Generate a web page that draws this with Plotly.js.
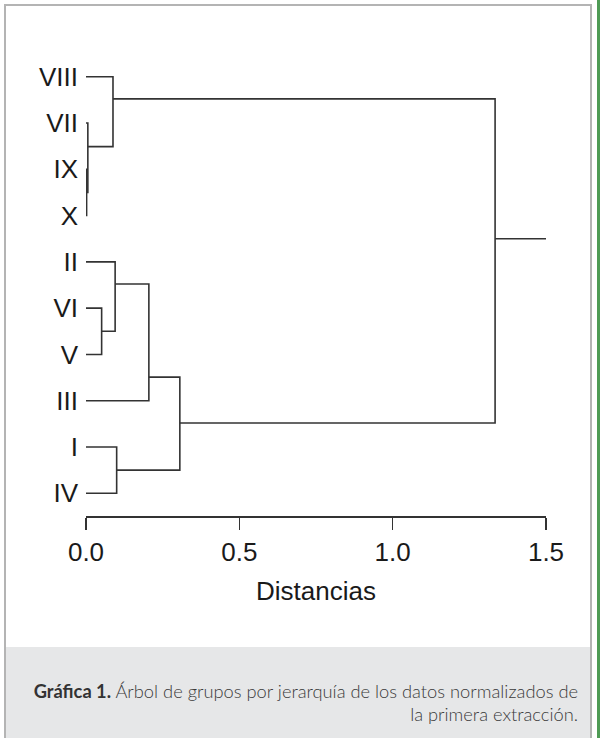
<!DOCTYPE html>
<html>
<head>
<meta charset="utf-8">
<script src="https://cdn.plot.ly/plotly-3.0.1.min.js"></script>
<style>
  html, body { margin: 0; padding: 0; }
  body { width: 600px; height: 738px; position: relative; overflow: hidden; background: #ffffff; }
  #frame { position: absolute; left: 4px; top: 4px; width: 588px; height: 760px; border: 2px solid #b4b4b4; box-sizing: border-box; }
  #band { position: absolute; left: 6px; top: 647px; width: 584px; height: 91px; background: #e6e7e8; }
  #green { position: absolute; left: 597px; top: 0; width: 3px; height: 738px; background: #4f9b55; }
  #caption { position: absolute; right: 22px; top: 680px; width: 570px; text-align: right;
             font-family: "Lato", "Open Sans", sans-serif; font-size: 18.3px; line-height: 23px; color: #3a3a3a; font-weight: 300; }
  #caption b { font-weight: 700; color: #333; }
  #chart { position: absolute; left: 0; top: 0; width: 600px; height: 738px; }
</style>
</head>
<body>
<div id="frame"></div>
<div id="band"></div>
<div id="green"></div>
<div id="caption"><b>Gráfica 1.</b> Árbol de grupos por jerarquía de los datos normalizados de<br>la primera extracción.</div>
<div id="chart"></div>
<script>
// Leaf labels in display order (top to bottom)
const leafLabels = ['VIII', 'VII', 'IX', 'X', 'II', 'VI', 'V', 'III', 'I', 'IV'];

// Merges: node name, left child, right child, merge distance, node position (in leaf-index units)
const nodeNames   = ['A',   'B',   'C',   'D',   'E',   'F',    'G',   'H',   'R'];
const leftChild   = ['IX',  'VII', 'VI',  'I',   'II',  'VIII', 'E',   'G',   'F'];
const rightChild  = ['X',   'A',   'V',   'IV',  'C',   'B',    'III', 'D',   'H'];
const mergeHeight = [0.002, 0.006, 0.051, 0.100, 0.095, 0.088,  0.205, 0.306, 1.334];
const nodePos     = [2.5,   1.51,  5.5,   8.5,   4.48,  0.48,   6.49,  7.48,  3.5];
const rootLineEnd = 1.5;

// x-axis ticks
const xTickVals = [0, 0.5, 1.0, 1.5];
const xTickText = ['0.0', '0.5', '1.0', '1.5'];

// Build lookup of heights/positions
const info = {};
leafLabels.forEach((l, i) => { info[l] = { h: 0, p: i }; });
nodeNames.forEach((n, i) => { info[n] = { h: mergeHeight[i], p: nodePos[i] }; });

const xs = [], ys = [];
nodeNames.forEach((n, i) => {
  const a = info[leftChild[i]], b = info[rightChild[i]], h = mergeHeight[i];
  xs.push(a.h, h, h, b.h, null);
  ys.push(a.p, a.p, b.p, b.p, null);
});
// root stub
const root = info[nodeNames[nodeNames.length - 1]];
xs.push(root.h, rootLineEnd, null);
ys.push(root.p, root.p, null);

const trace = {
  x: xs, y: ys, type: 'scatter', mode: 'lines',
  line: { color: '#333333', width: 1.6 },
  hoverinfo: 'skip', showlegend: false
};

const font = { family: '"Liberation Sans", Arial, sans-serif', color: '#1a1a1a' };

const layout = {
  width: 600, height: 738,
  margin: { l: 86, r: 54, t: 54, b: 222 },
  paper_bgcolor: 'rgba(0,0,0,0)', plot_bgcolor: 'rgba(0,0,0,0)',
  font: font,
  xaxis: {
    range: [0, 1.5], showgrid: false, zeroline: false,
    showline: true, linecolor: '#333333', linewidth: 1.6,
    ticks: 'outside', ticklen: 12, tickwidth: 1.6, tickcolor: '#333333',
    tickvals: xTickVals, ticktext: xTickText,
    tickfont: { size: 26, family: font.family, color: '#1a1a1a' },
    title: { text: 'Distancias', font: { size: 26, family: font.family, color: '#1a1a1a' }, standoff: 16 },
    fixedrange: true
  },
  yaxis: {
    range: [9.49, -0.49], showgrid: false, zeroline: false, showline: false,
    ticks: '', tickvals: leafLabels.map((_, i) => i), ticktext: leafLabels,
    tickfont: { size: 26, family: font.family, color: '#1a1a1a' },
    ticklabelstandoff: 7,
    fixedrange: true
  }
};

Plotly.newPlot('chart', [trace], layout, { staticPlot: true, displayModeBar: false });
</script>
</body>
</html>
